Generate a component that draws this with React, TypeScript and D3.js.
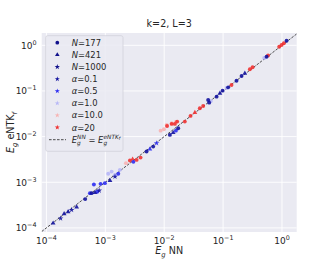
import React from 'react';
import * as d3 from 'd3';

// E_g of the network (x) vs E_g of the empirical NTK (y), one entry per run
const egNN = [
  1.3e-4, 1.74e-4, 2.0e-4, 2.34e-4, 2.68e-4, 3.26e-4, 4.56e-4, 5.48e-4, 5.85e-4, 6.4e-4,
  6.65e-4, 7.28e-4, 7.87e-4, 8.31e-4, 9.84e-4, 1.2e-3, 1.46e-3, 1.66e-3, 1.12e-3, 1.28e-3,
  1.46e-3, 1.77e-3, 2.24e-3, 2.62e-3, 2.91e-3, 3.4e-3, 3.97e-3, 5.02e-3, 5.71e-3, 6.5e-3,
  7.43e-3, 8.69e-3, 9.89e-3, 1.1e-2, 1.34e-2, 1.58e-2, 1.12e-2, 1.34e-2, 1.52e-2, 1.66e-2,
  1.25e-2, 1.42e-2, 1.58e-2, 1.73e-2, 2.24e-2, 2.8e-2, 3.32e-2, 4.03e-2, 4.59e-2, 5.58e-2,
  5.81e-2, 7.76e-2, 8.83e-2, 9.82e-2, 0.122, 0.115, 0.139, 0.169, 0.206, 0.234,
  0.285, 0.317, 0.548, 0.58, 0.5, 0.897, 0.984, 1.077, 1.197, 6.2e-2, 3.0e-3,
];
const egNTK = [
  1.27e-4, 1.61e-4, 2.04e-4, 2.25e-4, 2.49e-4, 2.85e-4, 4.27e-4, 5.77e-4, 5.77e-4, 8.9e-4,
  5.95e-4, 6.17e-4, 6.58e-4, 9.23e-4, 9.55e-4, 1.09e-3, 1.33e-3, 1.53e-3, 1.53e-3, 1.71e-3,
  1.45e-3, 1.87e-3, 2.62e-3, 2.99e-3, 3.2e-3, 3.09e-3, 3.47e-3, 4.7e-3, 5.3e-3, 6.04e-3,
  7.17e-3, 1.35e-2, 1.45e-2, 1.8e-2, 1.96e-2, 2.1e-2, 1.71e-2, 1.9e-2, 1.9e-2, 2.13e-2,
  1.09e-2, 1.22e-2, 1.35e-2, 1.53e-2, 2.13e-2, 2.84e-2, 3.35e-2, 4.18e-2, 4.7e-2, 6.35e-2,
  5.55e-2, 7.5e-2, 8.9e-2, 0.1016, 0.12, 0.116, 0.135, 0.168, 0.213, 0.244,
  0.298, 0.33, 0.563, 0.6, 0.53, 0.932, 1.016, 1.106, 1.26, 6.0e-2, 2.8e-3,
];
const runN = [
  421, 1000, 421, 421, 1000, 421, 177, 177, 177, 177,
  421, 177, 1000, 177, 177, 421, 1000, 177, 177, 177,
  177, 177, 177, 177, 421, 177, 177, 177, 421, 177,
  1000, 177, 177, 177, 177, 177, 177, 177, 177, 177,
  177, 421, 177, 177, 177, 177, 421, 177, 177, 177,
  177, 177, 421, 177, 177, 177, 177, 177, 177, 421,
  177, 177, 177, 177, 177, 177, 177, 177, 177, 177, 177,
];
const runAlpha = [
  0.1, 0.1, 0.1, 0.1, 0.1, 0.1, 0.1, 0.5, 0.1, 0.5,
  0.1, 0.5, 0.1, 0.5, 0.5, 0.1, 0.1, 0.5, 1.0, 1.0,
  1.0, 1.0, 10, 20, 20, 20, 20, 0.1, 0.5, 0.1,
  0.5, 10, 10, 10, 10, 10, 20, 20, 20, 20,
  0.1, 0.1, 0.5, 0.1, 20, 20, 20, 20, 20, 0.1,
  0.1, 0.1, 0.1, 0.1, 0.1, 1.0, 20, 0.1, 0.1, 0.1,
  20, 20, 0.1, 20, 1.0, 20, 20, 20, 0.1, 1.0, 0.5,
];

const nValues = [177, 421, 1000];
const nSymbols = [d3.symbolCircle, d3.symbolTriangle, d3.symbolStar];
const alphaValues = [0.1, 0.5, 1.0, 10, 20];
const alphaLabels = ['0.1', '0.5', '1.0', '10.0', '20'];
const alphaColors = ['#12129e', '#2d2df2', '#b6b6f7', '#f7b2b2', '#f03232'];

const xTicks = [-4, -3, -2, -1, 0];
const yTicks = [-4, -3, -2, -1, 0];

const W = 332, H = 266;
const left = 41.7, right = 296.7, top = 33, bottom = 232;
const font = 'DejaVu Sans, sans-serif';
const ink = '#262626';

const expLabel = (t: number) => (t === 0 ? '0' : '\u2212' + Math.abs(t));

export default function App() {
  const x = d3.scaleLog().domain([10 ** -4.08, 10 ** 0.25]).range([left, right]);
  const y = d3.scaleLog().domain([10 ** -4.09, 10 ** 0.27]).range([bottom, top]);

  const sym = (i: number, size: number) => d3.symbol(nSymbols[i], size)() as string;
  const points = egNN.map((v, i) => ({
    cx: x(v),
    cy: y(egNTK[i]),
    n: nValues.indexOf(runN[i]),
    a: alphaValues.indexOf(runAlpha[i]),
  }));
  // light colours first so the saturated ones stay on top
  const order = [2, 3, 4, 1, 0];
  points.sort((p, q) => order.indexOf(p.a) - order.indexOf(q.a));

  const lo = Math.max(x.domain()[0], y.domain()[0]);
  const hi = Math.min(x.domain()[1], y.domain()[1]);

  const lgX = 45.7, lgY = 35.7, lgW = 77.3, lgH = 115.6, row = 12.1;
  const legendRows = [
    ...nValues.map((n, i) => ({ kind: 'n', i, label: String(n) })),
    ...alphaLabels.map((l, i) => ({ kind: 'a', i, label: l })),
  ];

  return (
    <svg width={W} height={H} style={{ position: 'absolute', left: 0, top: 0 }} fontFamily={font}>
      <defs>
        <clipPath id="plot">
          <rect x={left} y={top} width={right - left} height={bottom - top} />
        </clipPath>
      </defs>
      <rect x={left} y={top} width={right - left} height={bottom - top} fill="#eaeaf2" />
      {xTicks.map(t => (
        <line key={'gx' + t} x1={x(10 ** t)} x2={x(10 ** t)} y1={top} y2={bottom} stroke="#fff" strokeWidth={0.9} />
      ))}
      {yTicks.map(t => (
        <line key={'gy' + t} x1={left} x2={right} y1={y(10 ** t)} y2={y(10 ** t)} stroke="#fff" strokeWidth={0.9} />
      ))}

      <g clipPath="url(#plot)">
        <line x1={x(lo)} y1={y(lo)} x2={x(hi)} y2={y(hi)} stroke="#222" strokeWidth={0.8} strokeDasharray="2.6,1.4" />
        {points.map((p, i) => (
          <path key={i} d={sym(p.n, p.n === 0 ? 12 : 10)} transform={`translate(${p.cx},${p.cy})`}
            fill={alphaColors[p.a]} opacity={0.9} />
        ))}
      </g>

      {xTicks.map(t => (
        <text key={'tx' + t} x={x(10 ** t)} y={244} textAnchor="middle" fontSize={9} fill={ink}>
          10<tspan fontSize={6.4} dy={-4}>{expLabel(t)}</tspan>
        </text>
      ))}
      {yTicks.map(t => (
        <text key={'ty' + t} x={36.5} y={y(10 ** t) + 3.3} textAnchor="end" fontSize={9} fill={ink}>
          10<tspan fontSize={6.4} dy={-4}>{expLabel(t)}</tspan>
        </text>
      ))}

      <text x={(left + right) / 2} y={27} textAnchor="middle" fontSize={9.6} fill={ink}>k=2, L=3</text>
      <text x={(left + right) / 2} y={254} textAnchor="middle" fontSize={9.6} fill={ink}>
        <tspan fontStyle="italic">E</tspan>
        <tspan fontStyle="italic" fontSize={6.8} dy={2.5}>g</tspan>
        <tspan dy={-2.5}> NN</tspan>
      </text>
      <text transform={`translate(14,${(top + bottom) / 2}) rotate(-90)`} textAnchor="middle" fontSize={9.6} fill={ink}>
        <tspan fontStyle="italic">E</tspan>
        <tspan fontStyle="italic" fontSize={6.8} dy={2.5}>g</tspan>
        <tspan dy={-2.5}> eNTK</tspan>
        <tspan fontStyle="italic" fontSize={6.8} dy={2.5}>f</tspan>
      </text>

      <rect x={lgX} y={lgY} width={lgW} height={lgH} rx={2} fill="#eaeaf2" fillOpacity={0.85} stroke="#d2d2da" strokeWidth={0.8} />
      {legendRows.map((r, k) => {
        const cy = 42.7 + k * row;
        const color = r.kind === 'n' ? '#10108c' : alphaColors[r.i];
        const d = r.kind === 'n' ? sym(r.i, r.i === 0 ? 11 : 9) : sym(2, 8);
        return (
          <g key={'lg' + k}>
            <path d={d} transform={`translate(57.3,${cy})`} fill={color} />
            <text x={71.7} y={cy + 3.1} fontSize={8.4} fill={ink}>
              <tspan fontStyle="italic">{r.kind === 'n' ? 'N' : '\u03b1'}</tspan>={r.label}
            </text>
          </g>
        );
      })}
      <line x1={49} x2={66} y1={139.7} y2={139.7} stroke="#222" strokeWidth={0.8} strokeDasharray="2.6,1.4" />
      <text x={71.7} y={142.5} fontSize={8.4} fill={ink}>
        <tspan fontStyle="italic">E</tspan>
        <tspan fontStyle="italic" fontSize={5.8} dy={2.3}>g</tspan>
        <tspan fontStyle="italic" fontSize={5.8} dx={-3.6} dy={-6.2}>NN</tspan>
        <tspan dy={3.9}> = </tspan>
        <tspan fontStyle="italic">E</tspan>
        <tspan fontStyle="italic" fontSize={5.8} dy={2.3}>g</tspan>
        <tspan fontStyle="italic" fontSize={5.8} dx={-3.6} dy={-6.2}>eNTK</tspan>
        <tspan fontStyle="italic" fontSize={4.4} dy={1.5}>f</tspan>
      </text>
    </svg>
  );
}
